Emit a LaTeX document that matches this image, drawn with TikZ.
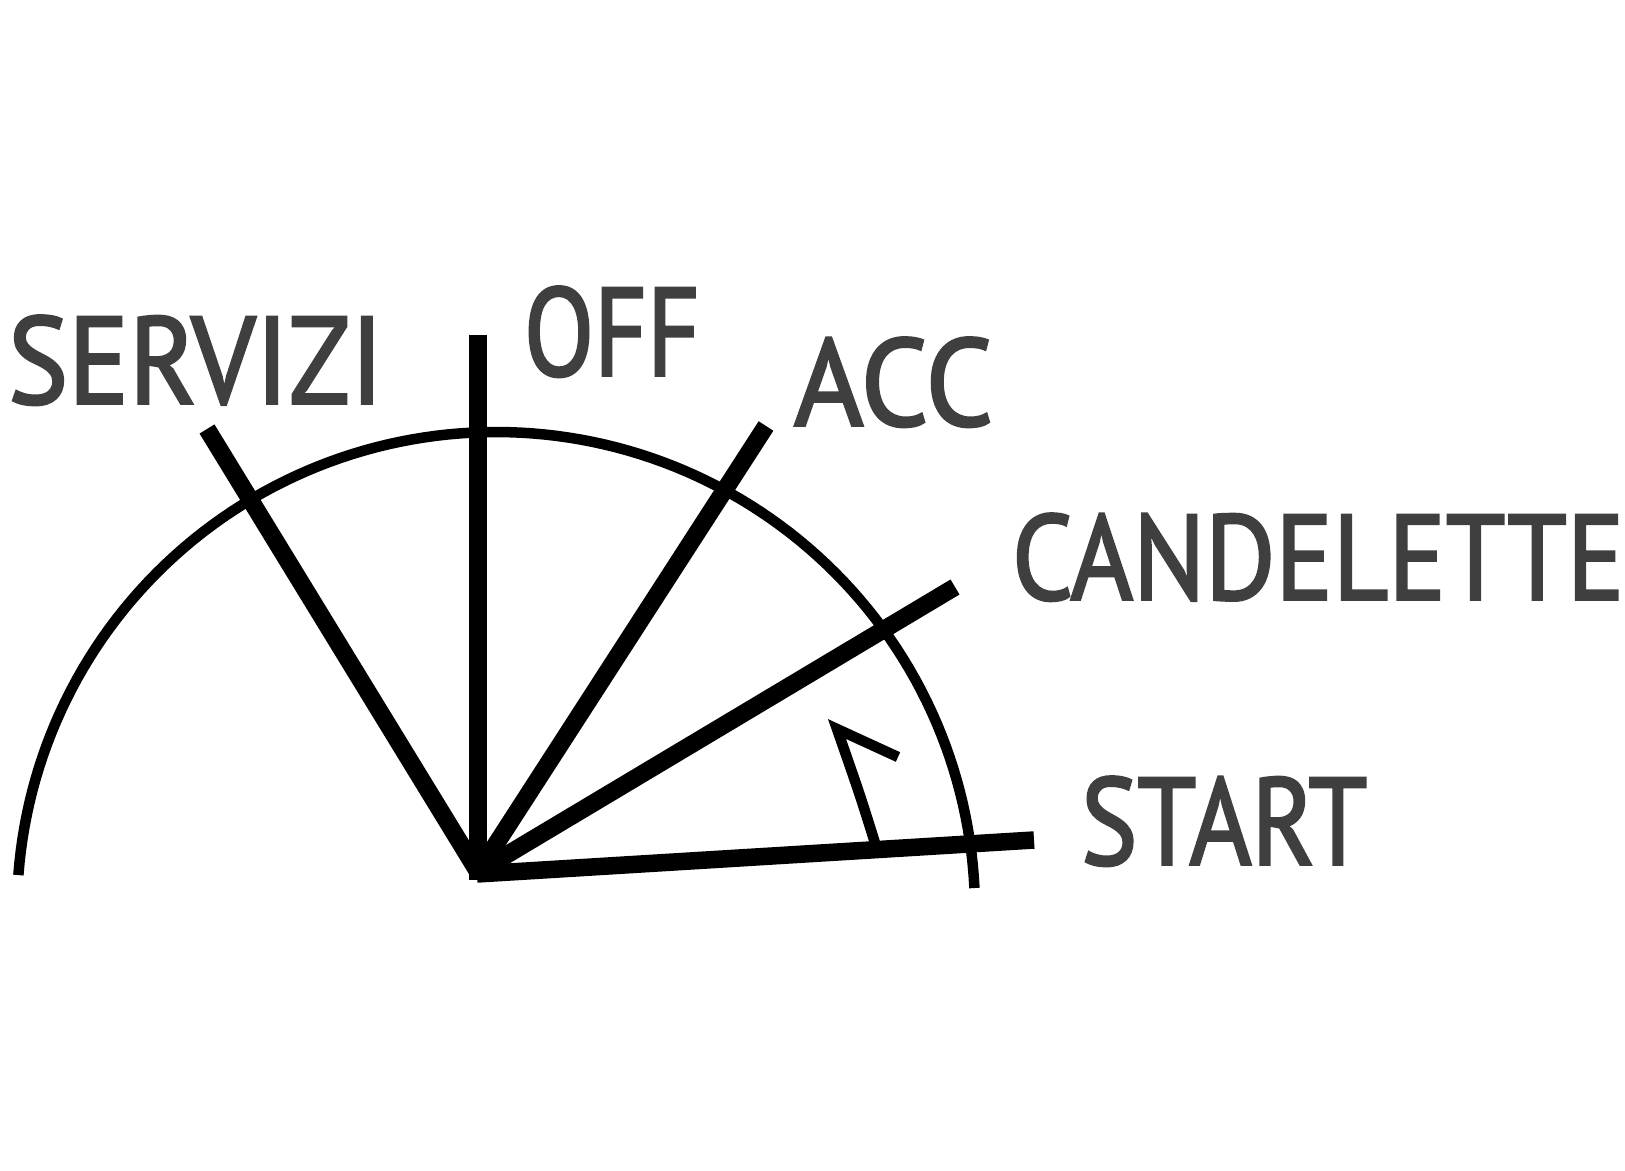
\documentclass[tikz,border=0pt]{standalone}
\usepackage{fontspec}
\setmainfont{PT Sans}
\newfontfamily\lblfont[FakeBold=2.2]{PT Sans}
\usepackage{graphicx}
\definecolor{txtgray}{HTML}{3F3F3F}
\tikzset{
  thickline/.style={line width=17.5pt, line cap=butt},
  thinline/.style={line width=10.5pt, line cap=butt},
  lbl/.style={anchor=south west, inner sep=0pt, outer sep=0pt, text=txtgray, font=\lblfont}
}
\begin{document}
\begin{tikzpicture}[x=1pt,y=-1pt]
\useasboundingbox (0,0) rectangle (1625,1170);
% dial arc
\draw[thinline] plot[domain=-175.7:-2.75, samples=120] ({496+479*cos(\x)}, {911+479*sin(\x)});
% pivot and ends
\coordinate (pivot) at (478,872);
\coordinate (eserv) at (207,429);
\coordinate (eoff) at (478,335);
\coordinate (eoffb) at (478,880);
\coordinate (eacc) at (766,426);
\coordinate (ecand) at (955,587);
\coordinate (estart) at (1034,840);
\coordinate (pstart) at (477,874);
\draw[thickline] (pivot) -- (eserv);
\draw[thickline] (eoffb) -- (eoff);
\draw[thickline] (pivot) -- (eacc);
\draw[thickline] (pivot) -- (ecand);
\draw[thickline] (pstart) -- (estart);
% small arrow
\coordinate (a0) at (875,843);
\coordinate (a1) at (837,729);
\coordinate (a2) at (898,757);
\draw[thinline, line join=miter] (a0) .. controls (860,795) .. (a1) -- (a2);
% labels
\node[lbl] (lserv) at (8,405) {\resizebox{375pt}{88pt}{SERVIZI}};
\node[lbl] (loff) at (524,377) {\resizebox{176pt}{89pt}{OFF}};
\node[lbl] (lacc) at (794,427) {\resizebox{199pt}{88pt}{ACC}};
\node[lbl] (lcand) at (1012,601) {\resizebox{612pt}{86pt}{CANDELETTE}};
\node[lbl] (lstart) at (1081,866) {\resizebox{286pt}{88pt}{START}};
\end{tikzpicture}
\end{document}
